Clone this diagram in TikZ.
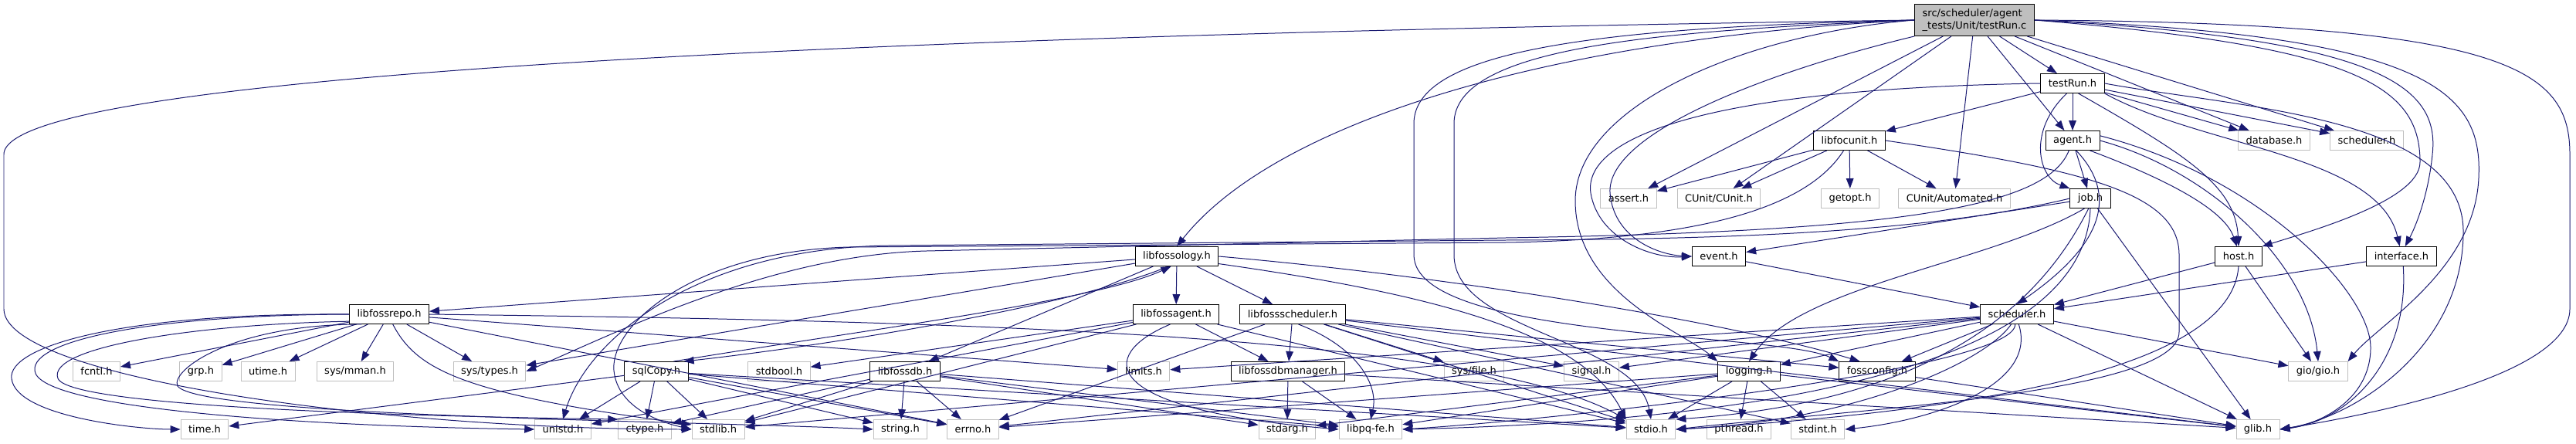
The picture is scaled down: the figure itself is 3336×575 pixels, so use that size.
\documentclass[tikz,border=0pt]{standalone}
\usepackage{fontspec}
\setmainfont{DejaVu Sans}
\usetikzlibrary{arrows.meta}
\definecolor{edgeblue}{RGB}{25, 25, 112}
\definecolor{boxgrey}{RGB}{191, 191, 191}

\begin{document}
\begin{tikzpicture}[x=0.3mm, y=-0.3mm,
  hdr/.style={draw=black, fill=white, line width=0.8pt, minimum height=7.5mm,
    inner xsep=3mm, inner ysep=0pt, font=\fontsize{11.1}{13}\selectfont},
  syshdr/.style={hdr, draw=boxgrey},
  mainhdr/.style={hdr, fill=boxgrey, align=left, minimum height=12.3mm},
  edge/.style={draw=edgeblue, line width=0.85pt, -{Triangle[length=3.9mm, width=2.9mm]}}]
  \useasboundingbox (0,0) rectangle (3336,575);

  % Files
  \node [mainhdr] (top) at (2557,26) {src/scheduler/agent\\\_tests/Unit/testRun.c};
  \node [hdr] (testRun) at (2684,108) {testRun.h};
  \node [hdr] (libfocunit) at (2395,182) {libfocunit.h};
  \node [hdr] (agent) at (2684,182) {agent.h};
  \node [syshdr] (database) at (2945,182) {database.h};
  \node [syshdr] (schedgrey) at (3065,182) {scheduler.h};
  \node [syshdr] (assert) at (2109,257) {assert.h};
  \node [syshdr] (cunit) at (2226,257) {CUnit/CUnit.h};
  \node [syshdr] (getopt) at (2396,257) {getopt.h};
  \node [syshdr] (automated) at (2531,257) {CUnit/Automated.h};
  \node [hdr] (job) at (2707,257) {job.h};
  \node [hdr] (libfossology) at (1524,332) {libfossology.h};
  \node [hdr] (event) at (2226,332) {event.h};
  \node [hdr] (host) at (2899,332) {host.h};
  \node [hdr] (interface) at (3110,332) {interface.h};
  \node [hdr] (libfossrepo) at (504,407) {libfossrepo.h};
  \node [hdr] (libfossagent) at (1523,407) {libfossagent.h};
  \node [hdr] (libfossscheduler) at (1674,407) {libfossscheduler.h};
  \node [hdr] (scheduler) at (2612,407) {scheduler.h};
  \node [syshdr] (fcntl) at (125,481) {fcntl.h};
  \node [syshdr] (grp) at (260,481) {grp.h};
  \node [syshdr] (utime) at (347,481) {utime.h};
  \node [syshdr] (sysmman) at (460,481) {sys/mman.h};
  \node [syshdr] (systypes) at (634,481) {sys/types.h};
  \node [hdr] (sqlcopy) at (850,481) {sqlCopy.h};
  \node [syshdr] (stdbool) at (1009,481) {stdbool.h};
  \node [hdr] (libfossdb) at (1172,481) {libfossdb.h};
  \node [syshdr] (limits) at (1481,481) {limits.h};
  \node [hdr] (libfossdbmanager) at (1668,481) {libfossdbmanager.h};
  \node [syshdr] (sysfile) at (1909,481) {sys/file.h};
  \node [syshdr] (signal) at (2061,481) {signal.h};
  \node [hdr] (logging) at (2265,481) {logging.h};
  \node [hdr] (fossconfig) at (2431,481) {fossconfig.h};
  \node [syshdr] (gio) at (3002,481) {gio/gio.h};
  \node [syshdr] (time) at (265,556) {time.h};
  \node [syshdr] (unistd) at (729,556) {unistd.h};
  \node [syshdr] (ctype) at (835,556) {ctype.h};
  \node [syshdr] (stdlib) at (930,556) {stdlib.h};
  \node [syshdr] (string) at (1166,556) {string.h};
  \node [syshdr] (errno) at (1260,556) {errno.h};
  \node [syshdr] (stdarg) at (1667,556) {stdarg.h};
  \node [syshdr] (libpqfe) at (1775,556) {libpq-fe.h};
  \node [syshdr] (stdio) at (2138,556) {stdio.h};
  \node [syshdr] (pthread) at (2252,556) {pthread.h};
  \node [syshdr] (stdint) at (2354,556) {stdint.h};
  \node [syshdr] (glib) at (2924,556) {glib.h};

  % Straight includes
  \foreach \a/\b in {top/testRun, top/agent, top/database, top/schedgrey, top/automated,
      top/cunit, top/assert, testRun/libfocunit, testRun/agent, testRun/database,
      testRun/schedgrey, libfocunit/assert, libfocunit/cunit, libfocunit/getopt,
      libfocunit/automated, agent/job, job/event, job/glib, event/scheduler,
      host/scheduler, host/gio, interface/scheduler, scheduler/signal, scheduler/logging,
      scheduler/fossconfig, scheduler/glib, scheduler/gio, scheduler/limits,
      scheduler/errno, scheduler/stdlib, logging/stdio, logging/pthread, logging/stdint,
      logging/glib, logging/libpqfe, logging/stdarg, logging/errno, fossconfig/glib,
      libfossology/libfossagent, libfossology/libfossscheduler, libfossology/libfossrepo,
      libfossology/libfossdb, libfossology/systypes, libfossrepo/fcntl, libfossrepo/grp,
      libfossrepo/utime, libfossrepo/sysmman, libfossrepo/systypes, libfossrepo/limits,
      libfossrepo/errno, libfossagent/libfossdbmanager, libfossagent/stdbool,
      libfossagent/stdlib, libfossagent/unistd, libfossagent/stdio,
      libfossscheduler/libfossdbmanager, libfossscheduler/sysfile, libfossscheduler/signal,
      libfossscheduler/errno, libfossscheduler/stdio, libfossscheduler/stdint,
      libfossscheduler/fossconfig, libfossscheduler/glib, libfossdb/string, libfossdb/errno,
      libfossdb/libpqfe, libfossdb/stdio, libfossdb/stdlib, libfossdb/ctype, libfossdb/stdarg,
      libfossdbmanager/stdarg, libfossdbmanager/libpqfe, libfossdbmanager/glib,
      sqlcopy/time, sqlcopy/unistd, sqlcopy/ctype, sqlcopy/stdlib, sqlcopy/string,
      sqlcopy/errno, sqlcopy/stdio, sqlcopy/libpqfe} {
    \draw [edge] (\a) -- (\b);
  }

  % testRun.c, long ones
  \draw [edge] (top.west) .. controls (1500,40) and (5,80) .. (5,200) -- (5,400)
    .. controls (5,490) and (500,556) .. (stdlib.west);
  \draw [edge] (top.west) .. controls (2000,50) and (1650,160) .. (libfossology.north);
  \draw [edge] (top.west) .. controls (2150,40) and (1883,60) .. (1883,160) -- (1883,330)
    .. controls (1883,430) and (2120,440) .. (stdio.north);
  \draw [edge] (top.west) .. controls (2100,35) and (1831,60) .. (1831,160) -- (1831,330)
    .. controls (1831,440) and (2300,430) .. (fossconfig.north west);
  \draw [edge] (top.west) .. controls (2250,45) and (2040,140) .. (2040,260)
    .. controls (2040,380) and (2180,430) .. (logging.north west);
  \draw [edge] (top.south west) .. controls (2300,90) and (2080,170) .. (2085,250)
    .. controls (2090,310) and (2150,330) .. (event.west);
  \draw [edge] (top.east) .. controls (3050,60) and (3134,110) .. (3134,210)
    .. controls (3134,260) and (2990,300) .. (host.north east);
  \draw [edge] (top.east) .. controls (3080,50) and (3160,110) .. (3150,200)
    .. controls (3145,250) and (3130,290) .. (interface.70);
  \draw [edge] (top.east) .. controls (3150,45) and (3215,120) .. (3210,230)
    .. controls (3205,350) and (3080,420) .. (gio.north east);
  \draw [edge] (top.east) .. controls (3250,30) and (3328,90) .. (3328,200) -- (3328,400)
    .. controls (3328,490) and (3050,540) .. (glib.east);

  % testRun.h
  \draw [edge] (testRun.west) .. controls (2200,115) and (2050,180) .. (2060,250)
    .. controls (2070,310) and (2140,335) .. (event.west);
  \draw [edge] (testRun.east) .. controls (2900,140) and (3190,150) .. (3190,300)
    .. controls (3190,450) and (3050,540) .. (glib.east);
  \draw [edge] (testRun.south east) .. controls (2850,190) and (3080,200) .. (interface.100);
  \draw [edge] (testRun.-60) .. controls (2830,200) and (2895,240) .. (host.north);
  \draw [edge] (testRun.-120) .. controls (2625,170) and (2640,230) .. (job.north west);

  % libfocunit.h
  \draw [edge] (libfocunit.-120) .. controls (2340,270) and (2200,310) .. (1950,314)
    -- (1100,320) .. controls (900,325) and (790,420) .. (795,480)
    .. controls (800,530) and (860,548) .. (stdlib.west);
  \draw [edge] (libfocunit.east) .. controls (2700,220) and (2822,250) .. (2822,330)
    -- (2822,430) .. controls (2822,510) and (2400,530) .. (stdio.east);

  % agent.h and job.h
  \draw [edge] (agent.-110) .. controls (2650,270) and (2450,300) .. (1950,308)
    -- (1200,325) .. controls (1000,330) and (800,430) .. (systypes.east);
  \draw [edge] (agent.-30) .. controls (2800,230) and (2880,270) .. (host.100);
  \draw [edge] (agent.east) .. controls (2860,220) and (2990,340) .. (gio.north);
  \draw [edge] (agent.10) .. controls (2930,230) and (3070,380) .. (3070,450)
    .. controls (3070,520) and (3000,550) .. (glib.east);
  \draw [edge] (agent.-70) .. controls (2760,270) and (2690,340) .. (scheduler.north);
  \draw [edge] (job.west) .. controls (2500,300) and (2250,310) .. (1950,311)
    -- (1150,318) .. controls (900,322) and (760,440) .. (unistd.north);
  \draw [edge] (job.-120) .. controls (2580,340) and (2330,370) .. (logging.north);
  \draw [edge] (job.-100) .. controls (2640,400) and (2500,520) .. (stdio.north east);
  \draw [edge] (job.south) .. controls (2700,470) and (2300,545) .. (libpqfe.east);

  % host.h and interface.h
  \draw [edge] (host.south) .. controls (2890,470) and (2600,530) .. (stdio.east);
  \draw [edge] (interface.-80) .. controls (3120,470) and (3040,545) .. (glib.east);

  % libfossology.h and sqlCopy.h
  \draw [edge] (libfossology.-130) .. controls (1380,400) and (1050,450) .. (sqlcopy.20);
  \draw [edge] (sqlcopy.30) .. controls (1100,430) and (1420,390) .. (libfossology.-120);
  \draw [edge] (libfossology.east) .. controls (1900,360) and (2250,420) .. (fossconfig.150);
  \draw [edge] (libfossology.-10) .. controls (1850,380) and (2050,430) .. (stdio.north west);

  % libfossrepo.h
  \draw [edge] (libfossrepo.west) .. controls (150,405) and (10,450) .. (15,490)
    .. controls (20,540) and (180,556) .. (time.west);
  \draw [edge] (libfossrepo.west) .. controls (200,408) and (40,440) .. (45,480)
    .. controls (50,530) and (400,552) .. (unistd.west);
  \draw [edge] (libfossrepo.190) .. controls (250,420) and (60,450) .. (75,490)
    .. controls (90,530) and (600,540) .. (ctype.north west);
  \draw [edge] (libfossrepo.200) .. controls (300,420) and (220,480) .. (230,500)
    .. controls (260,540) and (900,545) .. (string.west);
  \draw [edge] (libfossrepo.-70) .. controls (540,480) and (600,510) .. (stdlib.170);
  \draw [edge] (libfossrepo.east) .. controls (1200,415) and (1900,430) .. (stdio.north west);

  % library headers
  \draw [edge] (libfossagent.-120) .. controls (1420,460) and (1420,530) .. (libpqfe.west);
  \draw [edge] (libfossscheduler.-60) .. controls (1760,450) and (1785,500) .. (libpqfe.north);

  % scheduler.h
  \draw [edge] (scheduler.-120) .. controls (2570,470) and (2400,545) .. (stdio.east);
  \draw [edge] (scheduler.-80) .. controls (2640,500) and (2500,545) .. (stdint.east);
  \draw [edge] (scheduler.-100) .. controls (2610,480) and (2000,545) .. (libpqfe.east);
\end{tikzpicture}
\end{document}
